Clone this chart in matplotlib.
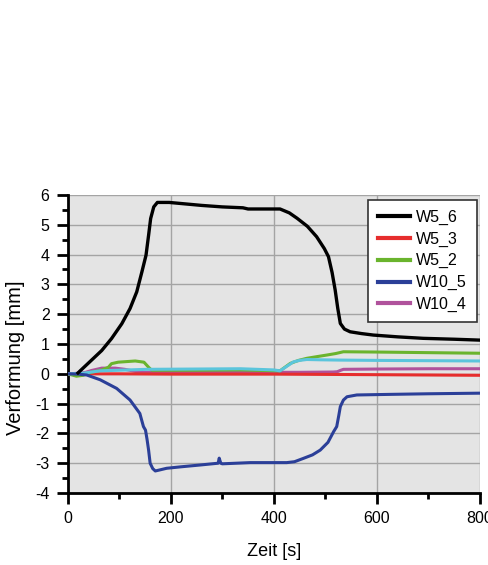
import numpy as np
import matplotlib.pyplot as plt

plt.rcParams['font.family'] = ['Liberation Sans', 'DejaVu Sans']
plt.rcParams['axes.unicode_minus'] = False

t_w5_6 = [20, 39, 66, 85, 105, 121, 134, 144, 152, 157, 161, 167, 174, 197, 260, 300, 340, 350,
          412, 430, 445, 465, 483, 498, 506, 513, 519, 524, 529, 537, 548, 570, 593, 640, 690, 750, 800]
v_w5_6 = [0.03, 0.34, 0.78, 1.18, 1.68, 2.19, 2.75, 3.42, 3.98, 4.65, 5.21, 5.6, 5.75, 5.75, 5.65, 5.6, 5.57, 5.53,
          5.53, 5.4, 5.22, 4.95, 4.6, 4.2, 3.93, 3.4, 2.81, 2.2, 1.69, 1.5, 1.41, 1.35, 1.30, 1.24, 1.19, 1.16, 1.13]

t_w5_3 = [0, 100, 200, 400, 600, 800]
v_w5_3 = [0, 0.0, -0.01, -0.01, -0.03, -0.05]

t_w5_2 = [0, 17, 30, 45, 65, 79, 85, 98, 131, 148, 157, 163, 250, 335, 412, 420, 432, 448,
          464, 485, 503, 520, 535, 600, 700, 800]
v_w5_2 = [0, -0.08, -0.05, 0.05, 0.12, 0.22, 0.34, 0.39, 0.43, 0.39, 0.22, 0.12, 0.12, 0.13, 0.1, 0.2, 0.35, 0.45,
          0.52, 0.58, 0.63, 0.68, 0.74, 0.73, 0.71, 0.69]

t_w10_5 = [0, 20, 37, 63, 95, 121, 140, 147, 151, 154, 157, 160, 165, 170, 180, 192, 220, 257, 292, 294,
           297, 300, 354, 425, 440, 457, 475, 490, 505, 516, 522, 526, 529, 535, 542, 561, 626, 700, 800]
v_w10_5 = [0, -0.01, -0.04, -0.2, -0.49, -0.88, -1.33, -1.77, -1.89, -2.2, -2.56, -3.0, -3.18, -3.26, -3.22, -3.17, -3.12, -3.06, -3.0, -2.83,
           -3.0, -3.02, -2.98, -2.98, -2.95, -2.84, -2.72, -2.56, -2.3, -1.94, -1.77, -1.4, -1.10, -0.88, -0.77, -0.71, -0.69, -0.67, -0.65]

t_w10_4 = [0, 24, 35, 46, 66, 92, 111, 131, 150, 300, 450, 515, 523, 530, 535, 600, 700, 800]
v_w10_4 = [0, 0.02, 0.05, 0.11, 0.19, 0.19, 0.15, 0.08, 0.05, 0.05, 0.05, 0.06, 0.07, 0.12, 0.15, 0.16, 0.17, 0.17]

# zusaetzliche Kurve ohne Legendeneintrag
t_cyan = [0, 30, 63, 100, 153, 250, 335, 400, 412, 425, 438, 450, 464, 490, 529, 600, 700, 800]
v_cyan = [0, 0.02, 0.1, 0.12, 0.15, 0.16, 0.17, 0.13, 0.1, 0.25, 0.4, 0.45, 0.48, 0.47, 0.46, 0.45, 0.44, 0.43]

fig = plt.figure(figsize=(4.89, 5.65), dpi=100)
ax = fig.add_axes([0.1384, 0.1274, 0.8432, 0.5275])
ax.set_facecolor('#e4e4e4')

lw = 2.2
l4, = ax.plot(t_w10_4, v_w10_4, color='#b0529c', lw=lw, label='W10_4', zorder=3)
l2, = ax.plot(t_w5_3, v_w5_3, color='#e62d2d', lw=lw, label='W5_3', zorder=4)
l3, = ax.plot(t_w5_2, v_w5_2, color='#6ab42d', lw=lw, label='W5_2', zorder=5)
ax.plot(t_cyan, v_cyan, color='#5bc5dc', lw=lw, zorder=6)
l5, = ax.plot(t_w10_5, v_w10_5, color='#2b3f98', lw=lw, label='W10_5', zorder=7)
l1, = ax.plot(t_w5_6, v_w5_6, color='black', lw=2.4, label='W5_6', zorder=8)

ax.set_xlim(0, 800)
ax.set_ylim(-4, 6)
ax.set_xticks([0, 200, 400, 600, 800])
ax.set_xticks([100, 300, 500, 700], minor=True)
ax.set_yticks(np.arange(-4, 7, 1))
ax.set_yticks(np.arange(-3.5, 6, 1), minor=True)

ax.grid(True, which='major', color='#a4a4a4', lw=1.0)
ax.set_axisbelow(True)

for s in ['top', 'right']:
    ax.spines[s].set_visible(False)
for s in ['left', 'bottom']:
    ax.spines[s].set_linewidth(2.0)
    ax.spines[s].set_color('black')

ax.tick_params(which='major', direction='out', length=8, width=2, labelsize=11.5, pad=5)
ax.tick_params(which='minor', direction='out', length=4, width=2)

ax.set_xlabel('Zeit [s]', fontsize=13, labelpad=12)
ax.set_ylabel('Verformung [mm]', fontsize=14.5)
ax.yaxis.set_label_coords(-0.104, 0.453)

leg = ax.legend(handles=[l1, l2, l3, l5, l4], loc='upper right', bbox_to_anchor=(0.992, 0.983),
                borderaxespad=0, fontsize=11.5, fancybox=False, framealpha=1, edgecolor='#333333',
                handlelength=2.0, labelspacing=0.42, borderpad=0.6, handletextpad=0.4)
leg.get_frame().set_linewidth(1.2)
for h in leg.get_lines():
    h.set_linewidth(3)

fig.savefig('out.png', dpi=100)
